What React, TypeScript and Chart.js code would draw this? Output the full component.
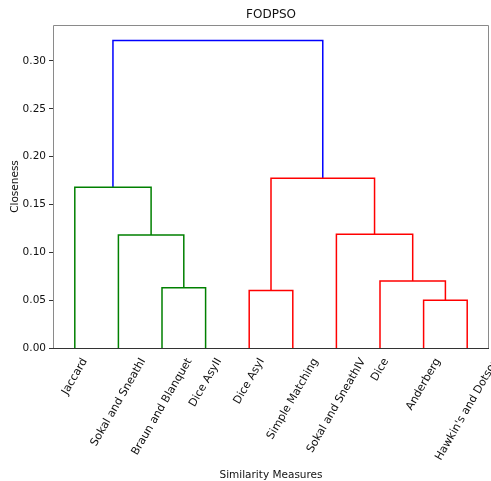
import { useEffect, useRef } from "react";
import { Chart, registerables } from "chart.js";

Chart.register(...registerables);

// Leaves (left to right, as in the dendrogram)
const leafLabels = [
  "Jaccard",
  "Sokal and SneathI",
  "Braun and Blanquet",
  "Dice AsyII",
  "Dice AsyI",
  "Simple Matching",
  "Sokal and SneathIV",
  "Dice",
  "Anderberg",
  "Hawkin's and Dotson",
];

// Linkage: merge k creates node (leafLabels.length + k)
const mergeLeft = [8, 4, 2, 7, 1, 6, 0, 11, 16];
const mergeRight = [9, 5, 3, 10, 12, 13, 14, 15, 17];
const mergeHeight = [0.05, 0.06, 0.063, 0.07, 0.118, 0.119, 0.168, 0.1775, 0.3215];
const mergeColor = ["r", "r", "g", "r", "g", "r", "g", "r", "b"];

const yTicks = [0, 0.05, 0.1, 0.15, 0.2, 0.25, 0.3];

const chartTitle = "FODPSO";
const xTitle = "Similarity Measures";
const yTitle = "Closeness";

const COLORS: Record<string, string> = {
  r: "rgb(255,0,0)",
  g: "rgb(0,128,0)",
  b: "rgb(0,0,255)",
};

const FONT = '"DejaVu Sans", sans-serif';

function buildDatasets() {
  const n = leafLabels.length;
  const xs: number[] = leafLabels.map((_, i) => 5 + 10 * i);
  const hs: number[] = leafLabels.map(() => 0);
  const datasets: any[] = [];
  mergeLeft.forEach((l, k) => {
    const r = mergeRight[k];
    const h = mergeHeight[k];
    const xl = xs[l];
    const xr = xs[r];
    datasets.push({
      label: "link" + k,
      data: [
        { x: xl, y: hs[l] },
        { x: xl, y: h },
        { x: xr, y: h },
        { x: xr, y: hs[r] },
      ],
      borderColor: COLORS[mergeColor[k]],
      backgroundColor: COLORS[mergeColor[k]],
      borderWidth: 1.5,
      pointRadius: 0,
      tension: 0,
      fill: false,
    });
    xs[n + k] = (xl + xr) / 2;
    hs[n + k] = h;
  });
  return datasets;
}

const decor = {
  id: "decor",
  afterDraw(chart: any) {
    const { ctx, chartArea } = chart;
    const { left, right, top, bottom } = chartArea;
    const xScale = chart.scales.x;
    ctx.save();
    // frame
    ctx.lineWidth = 1;
    ctx.strokeStyle = "#8a8a8a";
    ctx.beginPath();
    ctx.moveTo(left + 0.5, bottom);
    ctx.lineTo(left + 0.5, top + 0.5);
    ctx.lineTo(right - 0.5, top + 0.5);
    ctx.lineTo(right - 0.5, bottom);
    ctx.stroke();
    ctx.strokeStyle = "#333";
    ctx.beginPath();
    ctx.moveTo(left, bottom + 0.5);
    ctx.lineTo(right, bottom + 0.5);
    ctx.stroke();

    ctx.fillStyle = "#111";
    // title
    ctx.font = `12px ${FONT}`;
    ctx.textAlign = "center";
    ctx.textBaseline = "alphabetic";
    ctx.fillText(chartTitle, (left + right) / 2, 18);

    // x title
    ctx.font = `10.5px ${FONT}`;
    ctx.fillText(xTitle, (left + right) / 2, 478);

    // y title
    ctx.save();
    ctx.translate(18, (top + bottom) / 2);
    ctx.rotate(-Math.PI / 2);
    ctx.textAlign = "center";
    ctx.textBaseline = "alphabetic";
    ctx.fillText(yTitle, 0, 0);
    ctx.restore();

    // rotated leaf labels (bbox centred on tick)
    const a = (60 * Math.PI) / 180;
    const fs = 11;
    ctx.font = `${fs}px ${FONT}`;
    leafLabels.forEach((lab, i) => {
      const w = ctx.measureText(lab).width;
      const h = fs * 1.17;
      const H = w * Math.sin(a) + h * Math.cos(a);
      const cx = xScale.getPixelForValue(5 + 10 * i);
      const cy = bottom + 8 + H / 2;
      ctx.save();
      ctx.translate(cx, cy);
      ctx.rotate(-a);
      ctx.textAlign = "center";
      ctx.textBaseline = "middle";
      ctx.fillText(lab, 0, 0);
      ctx.restore();
    });
    ctx.restore();
  },
};

export default function App() {
  const ref = useRef<HTMLCanvasElement>(null);
  useEffect(() => {
    if (!ref.current) return;
    const chart = new Chart(ref.current, {
      type: "line",
      data: { datasets: buildDatasets() },
      options: {
        animation: false,
        responsive: false,
        devicePixelRatio: 1,
        layout: { padding: { left: 0, top: 25, right: 2, bottom: 133 } },
        plugins: { legend: { display: false }, tooltip: { enabled: false }, title: { display: false } },
        scales: {
          x: { type: "linear", min: 0, max: 100, display: false },
          y: {
            type: "linear",
            min: 0,
            max: 0.3215 * 1.05,
            afterBuildTicks: (scale: any) => {
              scale.ticks = yTicks.map((v) => ({ value: v }));
            },
            afterFit: (scale: any) => {
              scale.width = 53;
            },
            border: { display: false },
            grid: { drawOnChartArea: false, drawTicks: true, tickLength: 4, color: "#333" },
            ticks: {
              padding: 3,
              color: "#111",
              font: { family: FONT, size: 10.5 },
              callback: (v: any) => Number(v).toFixed(2),
            },
          },
        },
      },
      plugins: [decor],
    });
    return () => chart.destroy();
  }, []);
  return (
    <div style={{ position: "fixed", left: 0, top: 0, width: 491, height: 481, background: "#fff" }}>
      <canvas ref={ref} width={491} height={481} style={{ display: "block", width: "491px", height: "481px" }} />
    </div>
  );
}
